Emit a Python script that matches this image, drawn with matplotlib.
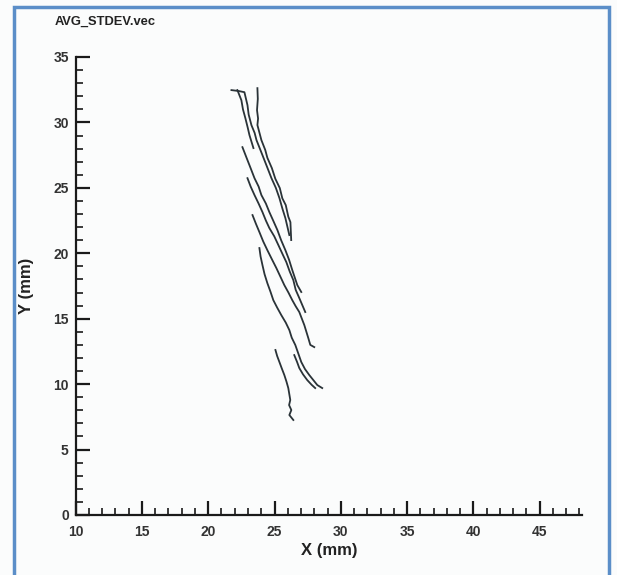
import numpy as np
import matplotlib.pyplot as plt
from matplotlib.patches import Rectangle
from matplotlib.ticker import MultipleLocator

plt.rcParams['font.family'] = ['Liberation Sans', 'DejaVu Sans']

# streamlines (mm)
line1_x = [23.71, 23.74, 23.68, 23.76, 23.71, 24.01, 24.30, 24.46, 24.80, 25.06, 25.40, 25.59, 25.85, 26.04, 26.20, 26.26]
line1_y = [32.62, 31.80, 30.94, 30.30, 29.80, 28.65, 27.90, 27.30, 26.51, 25.70, 24.98, 24.20, 23.68, 22.80, 22.38, 21.01]
line2_x = [21.75, 22.30, 22.73, 22.96, 23.05, 23.26, 23.50, 23.64, 24.09, 24.40, 24.77, 25.10, 25.37, 25.60, 25.82, 26.12]
line2_y = [32.47, 32.40, 32.31, 31.32, 30.60, 29.79, 29.20, 28.65, 27.50, 26.70, 25.74, 25.00, 24.22, 23.40, 22.69, 21.39]
line3_x = [22.20, 22.50, 22.62, 22.80, 22.98, 23.11, 23.41]
line3_y = [32.47, 31.70, 31.00, 30.33, 29.60, 29.03, 28.04]
line4_x = [22.58, 22.96, 23.20, 23.49, 23.80, 24.01, 24.35, 24.61, 24.90, 25.22, 25.50, 25.82, 26.10, 26.34, 26.72, 27.02]
line4_y = [28.11, 27.12, 26.50, 25.74, 25.10, 24.45, 23.80, 23.15, 22.50, 21.77, 21.00, 20.24, 19.50, 18.72, 17.57, 17.04]
line5_x = [22.96, 23.20, 23.49, 23.80, 24.09, 24.35, 24.61, 24.98, 25.29, 25.60, 25.89, 26.15, 26.42, 26.60, 26.87, 27.32]
line5_y = [25.74, 25.10, 24.45, 23.80, 23.15, 22.50, 21.93, 21.30, 20.63, 19.95, 19.33, 18.60, 17.95, 17.20, 16.58, 15.51]
line6_x = [23.34, 23.60, 23.86, 24.15, 24.46, 24.80, 25.14, 25.45, 25.74, 26.05, 26.34, 26.60, 26.87, 27.25, 27.55, 27.70, 28.00]
line6_y = [22.92, 22.25, 21.62, 20.90, 20.24, 19.55, 18.87, 18.20, 17.57, 17.00, 16.42, 15.95, 15.51, 14.51, 13.52, 13.00, 12.83]
line7_x = [23.86, 23.95, 24.09, 24.25, 24.46, 24.70, 24.91, 25.20, 25.51, 25.85, 26.12, 26.30, 26.57, 27.02, 27.30, 27.62, 28.23, 28.60]
line7_y = [20.40, 19.75, 19.10, 18.40, 17.72, 17.05, 16.42, 15.85, 15.28, 14.70, 14.13, 13.55, 12.99, 11.69, 11.15, 10.70, 9.93, 9.70]
line8_x = [26.49, 26.70, 26.87, 27.15, 27.47, 27.80, 28.07]
line8_y = [12.22, 11.70, 11.23, 10.75, 10.31, 9.95, 9.70]
line9_x = [25.07, 25.20, 25.37, 25.55, 25.74, 25.90, 26.04, 26.19, 26.10, 26.27, 26.12, 26.42]
line9_y = [12.61, 12.15, 11.69, 11.20, 10.70, 10.20, 9.70, 8.79, 8.40, 8.02, 7.64, 7.26]

lines = [(line1_x, line1_y), (line2_x, line2_y), (line3_x, line3_y),
         (line4_x, line4_y), (line5_x, line5_y), (line6_x, line6_y),
         (line7_x, line7_y), (line8_x, line8_y), (line9_x, line9_y)]

fig = plt.figure(figsize=(6.17, 5.75), dpi=100, facecolor='#fbfcfc')
ax = fig.add_axes([75.7/617, 1-515/575, (582-75.7)/617, (515-57)/575])
ax.set_facecolor('none')

for lx, ly in lines:
    ax.plot(lx, ly, color='#2a3338', lw=1.3)

ax.set_xlim(10, 48.2)
ax.set_ylim(0, 35)
ax.xaxis.set_major_locator(MultipleLocator(5))
ax.xaxis.set_minor_locator(MultipleLocator(1))
ax.yaxis.set_major_locator(MultipleLocator(5))
ax.yaxis.set_minor_locator(MultipleLocator(1))
ax.spines['top'].set_visible(False)
ax.spines['right'].set_visible(False)
for s in ['left', 'bottom']:
    ax.spines[s].set_linewidth(1.6)
    ax.spines[s].set_color('#1a1a1a')
ax.tick_params(which='major', direction='in', length=10, width=1.6, color='#1a1a1a',
               labelsize=10, labelcolor='#333333')
ax.tick_params(which='minor', direction='in', length=5, width=1.2, color='#1a1a1a')
ax.tick_params(axis='x', which='major', pad=7)
ax.tick_params(axis='y', which='major', pad=5)
for lab in ax.get_xticklabels() + ax.get_yticklabels():
    lab.set_fontweight('bold')

ax.set_xlabel('X (mm)', fontsize=12, fontweight='bold', color='#222222', labelpad=3)
ax.set_ylabel('Y (mm)', fontsize=12, fontweight='bold', color='#222222', labelpad=14)

fig.text(55/617, 1-22/575, 'AVG_STDEV.vec', fontsize=9.3, fontweight='bold',
         color='#222222', va='center', ha='left')

fig.patches.append(Rectangle((13.5/617, -0.05), (609-13.5)/617, 1.05-7.5/575,
                             transform=fig.transFigure, fill=False,
                             edgecolor='#5b8ec8', lw=2.5))

fig.savefig('out.png', dpi=100, facecolor=fig.get_facecolor())
